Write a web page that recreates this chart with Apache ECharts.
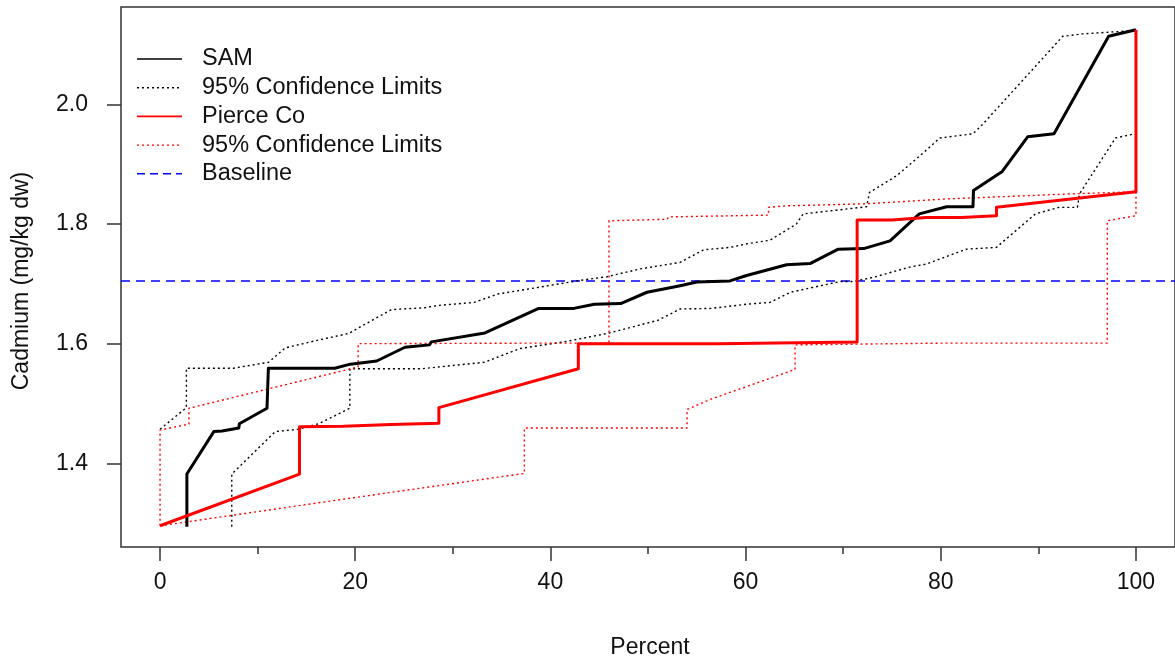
<!DOCTYPE html>
<html>
<head>
<meta charset="utf-8">
<script src="https://cdn.jsdelivr.net/npm/echarts@6/dist/echarts.min.js"></script>
<style>
  html, body { margin: 0; padding: 0; background: #fff; }
  #chart { width: 1175px; height: 667px; }
</style>
</head>
<body>
<div id="chart"></div>
<script>
// Cumulative distribution of cadmium concentrations: [percent, mg/kg dw]
const samLine = [
  [2.75,1.294],[2.75,1.382],[5.51,1.453],[6.36,1.454],[8.07,1.459],[8.13,1.466],
  [10.96,1.492],[11.1,1.559],[17.9,1.559],[19.3,1.565],[22.2,1.571],[25.1,1.594],
  [27.6,1.598],[27.8,1.603],[33.3,1.618],[38.8,1.659],[42.4,1.659],[42.6,1.662],
  [44.5,1.666],[47.2,1.667],[49.9,1.686],[53.3,1.697],[55.0,1.703],[58.4,1.705],
  [60.1,1.714],[64.2,1.732],[66.6,1.734],[69.5,1.758],[72.1,1.759],[74.8,1.772],
  [77.8,1.817],[80.6,1.829],[83.3,1.829],[83.35,1.856],[86.3,1.888],[88.9,1.946],
  [91.6,1.951],[97.2,2.114],[100,2.125]
];
const samUpper = [
  [0,1.457],[2.7,1.493],[2.7,1.559],[7.55,1.559],[11.13,1.569],[12.83,1.593],
  [16.23,1.606],[19.3,1.617],[23.7,1.657],[27.1,1.660],[28.5,1.664],[32.2,1.669],
  [34.6,1.683],[38.7,1.694],[43.1,1.706],[45.8,1.712],[49.2,1.725],[53.3,1.736],
  [55.7,1.757],[58.4,1.761],[60.1,1.767],[62.5,1.773],[65.2,1.800],[65.9,1.817],
  [72.4,1.829],[72.7,1.853],[75.5,1.881],[78.2,1.919],[79.9,1.944],[83.3,1.951],
  [84.3,1.967],[92.5,2.114],[94.5,2.118],[99.3,2.123],[100,2.125]
];
const samLower = [
  [7.35,1.294],[7.35,1.382],[11.81,1.453],[14.19,1.457],[16.23,1.466],[19.45,1.492],
  [19.45,1.558],[26.75,1.558],[33.25,1.569],[36.9,1.592],[41.4,1.603],[45.8,1.617],
  [51.0,1.639],[53.3,1.658],[56.5,1.659],[60.1,1.666],[62.5,1.669],[64.6,1.686],
  [69.7,1.704],[71.0,1.704],[73.1,1.711],[76.8,1.728],[78.5,1.733],[82.6,1.758],
  [85.7,1.761],[89.7,1.817],[92.1,1.828],[94.0,1.828],[94.2,1.850],[97.9,1.944],
  [99.6,1.950]
];
const pierceLine = [
  [0,1.2955],[14.29,1.382],[14.29,1.461],[18.8,1.462],[23.7,1.465],[28.57,1.467],
  [28.57,1.493],[42.86,1.558],[42.86,1.600],[57.14,1.600],[57.14,1.603],[71.43,1.603],
  [71.43,1.807],[74.95,1.807],[74.95,1.809],[78.5,1.811],[82.1,1.811],[85.71,1.814],
  [85.71,1.828],[100,1.854],[100,2.125]
];
const pierceUpper = [
  [0,1.2955],[0,1.4555],[2.96,1.4655],[2.96,1.492],[20.3,1.561],[20.3,1.600],
  [39.7,1.601],[46.0,1.601],[46.0,1.8055],[51.97,1.808],[52.1,1.812],[62.35,1.815],
  [62.35,1.828],[64.2,1.8305],[72.38,1.834],[80.55,1.842],[94.16,1.851],[100,1.854]
];
const pierceLower = [
  [0,1.2955],[18.8,1.340],[37.33,1.383],[37.33,1.459],[54.0,1.459],[54.0,1.490],
  [56.4,1.507],[65.07,1.557],[65.07,1.598],[80.55,1.601],[97.06,1.601],[97.06,1.8055],
  [100,1.814],[100,1.854]
];
const baseline = 1.705;

const xMin = -4, xMax = 104;
const yMin = 1.26, yMax = 2.163;
const xMajorTicks = [0, 20, 40, 60, 80, 100];
const xMinorTicks = [10, 30, 50, 70, 90];
const yTicks = [1.4, 1.6, 1.8, 2.0];

const legendItems = [
  { label: 'SAM', color: '#000000', type: 'solid', width: 1.6 },
  { label: '95% Confidence Limits', color: '#000000', type: [2, 3], width: 1.4 },
  { label: 'Pierce Co', color: '#ff0000', type: 'solid', width: 1.6 },
  { label: '95% Confidence Limits', color: '#ff0000', type: [2, 3], width: 1.4 },
  { label: 'Baseline', color: '#0000ff', type: [8, 5], width: 1.5 }
];

const FONT = '"Liberation Sans", Arial, sans-serif';
const FONT_SIZE = 23;
const LEGEND_FONT_SIZE = 23.5;
const AXIS_COLOR = '#333';

const chart = echarts.init(document.getElementById('chart'), null, { renderer: 'canvas' });

function lineSeries(data, color, width, type) {
  return {
    type: 'line', xAxisIndex: 0, yAxisIndex: 0, data: data,
    showSymbol: false, symbol: 'none', silent: true, animation: false,
    lineStyle: { color: color, width: width, type: type, join: 'round', cap: 'butt' },
    z: 3
  };
}

const legendGraphics = [];
legendItems.forEach(function (it, i) {
  const y = 59 + i * 28.7;
  legendGraphics.push({
    type: 'line',
    shape: { x1: 137, y1: y, x2: 182, y2: y },
    style: { stroke: it.color, lineWidth: it.width, lineDash: it.type === 'solid' ? null : it.type },
    silent: true
  });
  legendGraphics.push({
    type: 'text', x: 202, y: y,
    style: { text: it.label, font: LEGEND_FONT_SIZE + 'px ' + FONT, fill: '#111', textVerticalAlign: 'middle', textAlign: 'left' },
    silent: true
  });
});

const tickLine = { color: AXIS_COLOR, width: 1.5 };

const option = {
  backgroundColor: '#ffffff',
  animation: false,
  grid: {
    left: 121, top: 7, width: 1059, height: 540,
    show: true, borderColor: AXIS_COLOR, borderWidth: 1.5, containLabel: false
  },
  xAxis: [
    {
      type: 'value', min: xMin, max: xMax, position: 'bottom',
      axisLine: { show: false, onZero: false },
      splitLine: { show: false },
      axisTick: { show: true, inside: false, length: 14, customValues: xMajorTicks, lineStyle: tickLine },
      axisLabel: { show: true, customValues: xMajorTicks, margin: 24, fontSize: FONT_SIZE, fontFamily: FONT, color: '#111',
        formatter: function (v) { return String(v); } }
    },
    {
      type: 'value', min: xMin, max: xMax, position: 'bottom', gridIndex: 0,
      axisLine: { show: false, onZero: false },
      splitLine: { show: false },
      axisTick: { show: true, inside: false, length: 7, customValues: xMinorTicks, lineStyle: tickLine },
      axisLabel: { show: false }
    }
  ],
  yAxis: {
    type: 'value', min: yMin, max: yMax, position: 'left',
    axisLine: { show: false, onZero: false },
    splitLine: { show: false },
    axisTick: { show: true, inside: false, length: 14, customValues: yTicks, lineStyle: tickLine },
    axisLabel: { show: true, customValues: yTicks, margin: 33, fontSize: FONT_SIZE, fontFamily: FONT, color: '#111',
      formatter: function (v) { return Number(v).toFixed(1); } }
  },
  series: [
    lineSeries([[xMin, baseline], [xMax, baseline]], '#0000ff', 1.5, [9, 6]),
    lineSeries(samUpper, '#000000', 1.4, [2, 3]),
    lineSeries(samLower, '#000000', 1.4, [2, 3]),
    lineSeries(pierceUpper, '#ff0000', 1.4, [2, 3]),
    lineSeries(pierceLower, '#ff0000', 1.4, [2, 3]),
    lineSeries(samLine, '#000000', 3, 'solid'),
    lineSeries(pierceLine, '#ff0000', 3, 'solid')
  ],
  graphic: [
    {
      type: 'text', x: 650, y: 648,
      style: { text: 'Percent', font: FONT_SIZE + 'px ' + FONT, fill: '#111', textAlign: 'center', textVerticalAlign: 'middle' },
      silent: true
    },
    {
      type: 'text', x: 22, y: 281, rotation: Math.PI / 2,
      style: { text: 'Cadmium (mg/kg dw)', font: FONT_SIZE + 'px ' + FONT, fill: '#111', textAlign: 'center', textVerticalAlign: 'middle' },
      silent: true
    }
  ].concat(legendGraphics)
};

chart.setOption(option);
</script>
</body>
</html>
